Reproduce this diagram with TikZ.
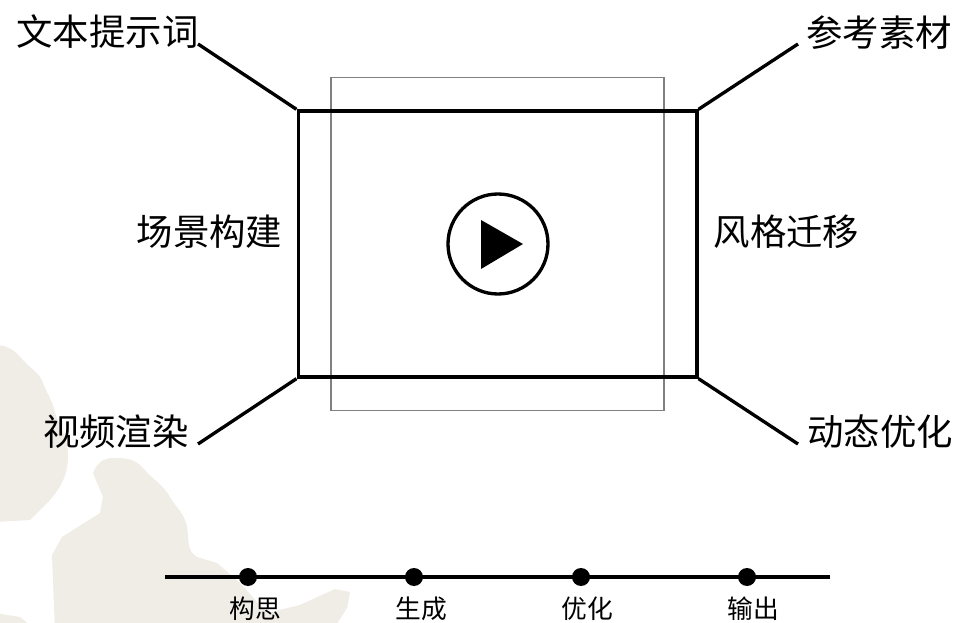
\documentclass[tikz,border=0pt]{standalone}
\usepackage{fontspec}
\newfontfamily\cjk{Noto Sans CJK SC}
\definecolor{blobcolor}{HTML}{F0ECE6}
\definecolor{thingray}{HTML}{808080}
\tikzset{
  biglabel/.style={inner sep=0pt, font=\cjk\fontsize{27.3}{27}\selectfont},
  smalllabel/.style={inner sep=0pt, font=\cjk\fontsize{19.3}{19}\selectfont},
  heavy/.style={line width=2.5pt},
  dot/.style={circle, fill=black, inner sep=0pt, minimum size=13.5pt}
}

\begin{document}
\begin{tikzpicture}[x=0.75pt, y=-0.75pt]
        \useasboundingbox (0,0) rectangle (957,623);

        % map shapes behind everything
        \begin{scope}
        \clip (0,0) rectangle (957,623);
        \fill[blobcolor] (-5,345) to[out=0, in=130] (23,360) to[out=-50, in=110] (43,383)
            to[out=-70, in=100] (55,413) to[out=-70, in=90] (68,455) to[out=-90, in=50] (50,500)
            -- (30,520) -- (-5,522) -- cycle;
        \fill[blobcolor] (93,473) to[out=70, in=180] (113,458) to[out=0, in=130] (143,468)
            to[out=-50, in=120] (170,497) to[out=-60, in=100] (187,527) to[out=-80, in=150] (197,557)
            -- (217,563) -- (240,583) -- (267,613) -- (300,605) -- (335,589) -- (350,592)
            -- (347,608) -- (333,630) -- (55,630) -- (52,555) -- (62,537) -- (100,513)
            -- (103,497) -- cycle;
        \fill[blobcolor] (-5,613) -- (20,617) -- (36,630) -- (-5,630) -- cycle;
        \end{scope}

        \node[draw=thingray, line width=1.1pt, minimum width=249.75pt, minimum height=249.75pt, inner sep=0pt] (outer) at (497.5,244) {};
        \node[draw, heavy, minimum width=299pt, minimum height=199.5pt, inner sep=0pt] (frame) at (497.5,244) {};

        \node[draw, heavy, circle, minimum size=75pt, inner sep=0pt] (play) at (498,244) {};
        \fill (481,220) -- (523,244) -- (481,269) -- cycle;

        \node[biglabel] (prompt) at (107.5,32) {文本提示词};
        \node[biglabel] (material) at (879,33) {参考素材};
        \node[biglabel] (scene) at (209.5,232) {场景构建};
        \node[biglabel] (style) at (786.5,232) {风格迁移};
        \node[biglabel] (render) at (116,432) {视频渲染};
        \node[biglabel] (motion) at (880,432) {动态优化};

        \coordinate (promptend) at (198,44);
        \coordinate (materialend) at (798,44);
        \coordinate (renderend) at (198,444);
        \coordinate (motionend) at (798,444);

        \draw[heavy] (promptend) -- (frame.north west);
        \draw[heavy] (materialend) -- (frame.north east);
        \draw[heavy] (renderend) -- (frame.south west);
        \draw[heavy] (motionend) -- (frame.south east);

        % timeline
        \coordinate (linestart) at (165,577);
        \coordinate (lineend) at (830,577);
        \draw[heavy] (linestart) -- (lineend);
        \node[dot] (idea) at (248,577) {};
        \node[dot] (make) at (414,577) {};
        \node[dot] (tune) at (581,577) {};
        \node[dot] (out) at (747,577) {};

        \node[smalllabel] (idealabel) at (255,609) {构思};
        \node[smalllabel] (makelabel) at (421,609) {生成};
        \node[smalllabel] (tunelabel) at (587,609) {优化};
        \node[smalllabel] (outlabel) at (753,609) {输出};

        \end{tikzpicture}
\end{document}
